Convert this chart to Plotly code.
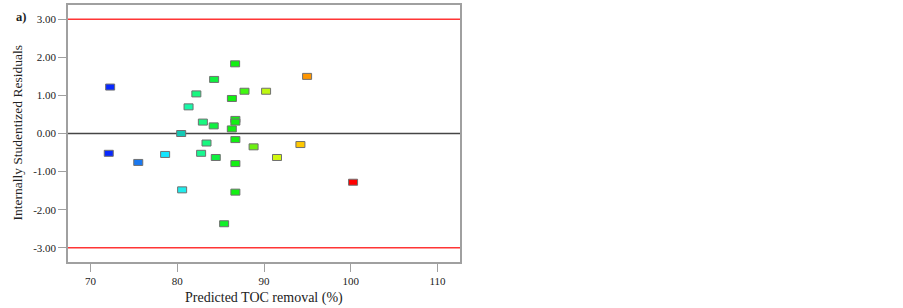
import plotly.graph_objects as go

# Data
predicted = [72.26, 72.1, 75.5, 78.6, 80.45, 80.56, 81.3, 82.2, 82.95, 83.37,
             82.75, 84.25, 84.2, 84.44, 85.4, 86.67, 86.3, 86.29, 86.7, 86.7,
             86.7, 86.7, 86.7, 87.75, 88.8, 90.24, 91.5, 94.2, 94.97, 100.27]
residuals = [1.22, -0.52, -0.76, -0.55, 0.00, -1.48, 0.70, 1.04, 0.30, -0.25,
             -0.52, 1.42, 0.20, -0.63, -2.37, 1.83, 0.92, 0.12, 0.37, 0.30,
             -0.16, -0.79, -1.54, 1.11, -0.35, 1.11, -0.63, -0.29, 1.50, -1.28]
point_colors = ["#0828ff", "#0828ff", "#1a78f0", "#14e6ff", "#14c8b4", "#1eecec",
                "#18f8a8", "#18f880", "#18f880", "#18f880", "#18f890", "#10f040",
                "#10f040", "#10f040", "#10f028", "#12f012", "#12f012", "#12f012",
                "#12f012", "#12f012", "#12f012", "#12f012", "#12f012", "#40f810",
                "#6cf010", "#bef810", "#d2f810", "#ffc800", "#ff9600", "#ff0000"]
limit_lines = [3.0, -3.0]
zero_line = 0.0
x_ticks = [70, 80, 90, 100, 110]
y_ticks = [-3, -2, -1, 0, 1, 2, 3]
y_tick_labels = ["-3.00", "-2.00", "-1.00", "0.00", "1.00", "2.00", "3.00"]

FONT = "Liberation Serif"

fig = go.Figure()

# invisible trace carrying the data (hover)
fig.add_trace(go.Scatter(x=predicted, y=residuals, mode="markers",
                         marker=dict(size=9, color="rgba(0,0,0,0)"),
                         showlegend=False, hoverinfo="x+y"))

shapes = []
for yv in limit_lines:
    shapes.append(dict(type="line", xref="paper", x0=0, x1=1, yref="y", y0=yv, y1=yv,
                       line=dict(color="#ff3535", width=1.5), layer="below"))
shapes.append(dict(type="line", xref="paper", x0=0, x1=1, yref="y", y0=zero_line, y1=zero_line,
                   line=dict(color="#454545", width=1.5), layer="below"))

for xv, yv, c in zip(predicted, residuals, point_colors):
    shapes.append(dict(type="rect", xref="x", yref="y",
                       xsizemode="pixel", ysizemode="pixel",
                       xanchor=xv, yanchor=yv,
                       x0=-4.5, x1=4.5, y0=-3, y1=3,
                       fillcolor=c, line=dict(color="#707070", width=1)))

fig.update_layout(
    width=903, height=308,
    margin=dict(l=68, r=443, t=3, b=46),
    paper_bgcolor="white", plot_bgcolor="white",
    shapes=shapes,
    font=dict(family=FONT, color="#222222"),
    xaxis=dict(range=[67.4, 112.6], tickvals=x_ticks, ticks="outside", ticklen=8,
               tickcolor="#a0a0a0", tickfont=dict(size=11, family=FONT, color="#222222"),
               showline=True, linecolor="#a0a0a0", linewidth=1.5, mirror=True,
               showgrid=False, zeroline=False),
    yaxis=dict(range=[-3.375, 3.375], tickvals=y_ticks, ticktext=y_tick_labels,
               ticks="outside", ticklen=8, tickcolor="#a0a0a0",
               tickfont=dict(size=11, family=FONT, color="#222222"),
               showline=True, linecolor="#a0a0a0", linewidth=1.5, mirror=True,
               showgrid=False, zeroline=False),
    annotations=[
        dict(text="Predicted TOC removal (%)", xref="paper", yref="paper", x=0.5, y=0,
             yshift=-26, yanchor="top", showarrow=False,
             font=dict(size=14, family=FONT, color="#222222")),
        dict(text="Internally Studentized Residuals", xref="paper", yref="paper", x=0, y=0.5,
             xshift=-51, xanchor="center", textangle=-90, showarrow=False,
             font=dict(size=13.5, family=FONT, color="#222222")),
        dict(text="<b>a)</b>", xref="paper", yref="paper", x=0, y=1,
             xshift=-54, yshift=-3, xanchor="left", yanchor="top", showarrow=False,
             font=dict(size=12.5, family=FONT, color="#222222")),
    ],
)

fig.write_html("out.html", config={"displayModeBar": False},
               post_script="document.body.style.margin='0';document.body.style.padding='0';")
